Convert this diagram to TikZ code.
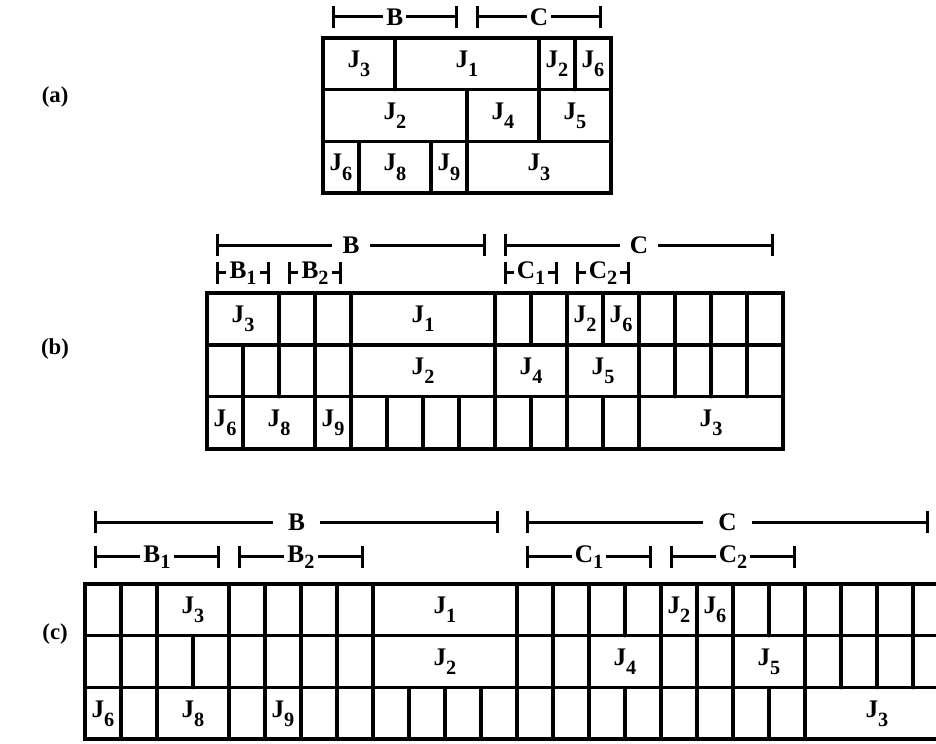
\documentclass[tikz,border=0pt]{standalone}
\usepackage{fontspec}
\setmainfont{Liberation Serif}
\usetikzlibrary{arrows.meta}

\newcommand{\jb}[1]{\textbf{J}\raisebox{-0.8ex}{\footnotesize\textbf{#1}}}

\begin{document}
\begin{tikzpicture}[x=0.5cm,y=0.5cm,line cap=round,
  frame/.style={line width=1.6pt},
  cellline/.style={line width=1.3pt},
  span/.style={line width=1.2pt,{Bar[width=8.5pt]}-{Bar[width=8.5pt]}},
  spanlab/.style={fill=white,inner sep=1.2pt,font=\bfseries},
  job/.style={inner sep=0pt,font=\normalsize},
  part/.style={font=\small\bfseries}]
\clip (0,0) rectangle (26,-20.64);

% (a)
\node[part] (pa) at (1.53,-2.69) {(a)};
\begin{scope}[shift={(8.97,-1.05)}]
\draw[frame] (0,0) rectangle (8,-4.32);
\draw[cellline] (0,-1.44) -- (8,-1.44) (0,-2.88) -- (8,-2.88);
\foreach \x in {2,6,7} \draw[cellline] (\x,0) -- (\x,-1.44);
\foreach \x in {4,6} \draw[cellline] (\x,-1.44) -- (\x,-2.88);
\foreach \x in {1,3,4} \draw[cellline] (\x,-2.88) -- (\x,-4.32);
\node[job] (a3) at (1,-0.72) {\jb{3}};
\node[job] (a1) at (4,-0.72) {\jb{1}};
\node[job] (a2) at (6.5,-0.72) {\jb{2}};
\node[job] (a6) at (7.5,-0.72) {\jb{6}};
\node[job] (a2b) at (2,-2.16) {\jb{2}};
\node[job] (a4) at (5,-2.16) {\jb{4}};
\node[job] (a5) at (7,-2.16) {\jb{5}};
\node[job] (a6b) at (0.5,-3.6) {\jb{6}};
\node[job] (a8) at (2,-3.6) {\jb{8}};
\node[job] (a9) at (3.5,-3.6) {\jb{9}};
\node[job] (a3b) at (6,-3.6) {\jb{3}};
\draw[span] (0.25,0.58) -- (3.75,0.58) node[spanlab,midway] (aB) {B};
\draw[span] (4.25,0.58) -- (7.75,0.58) node[spanlab,midway] (aC) {C};
\end{scope}

% (b)
\node[part] (pb) at (1.53,-9.69) {(b)};
\begin{scope}[shift={(5.75,-8.14)}]
\draw[frame] (0,0) rectangle (16,-4.32);
\draw[cellline] (0,-1.44) -- (16,-1.44) (0,-2.88) -- (16,-2.88);
\foreach \x in {2,3,4,8,9,10,11,12,13,14,15} \draw[cellline] (\x,0) -- (\x,-1.44);
\foreach \x in {1,2,3,4,8,10,12,13,14,15} \draw[cellline] (\x,-1.44) -- (\x,-2.88);
\foreach \x in {1,3,4,5,6,7,8,9,10,11,12} \draw[cellline] (\x,-2.88) -- (\x,-4.32);
\node[job] (b3) at (1,-0.72) {\jb{3}};
\node[job] (b1) at (6,-0.72) {\jb{1}};
\node[job] (b2) at (10.5,-0.72) {\jb{2}};
\node[job] (b6) at (11.5,-0.72) {\jb{6}};
\node[job] (b2b) at (6,-2.16) {\jb{2}};
\node[job] (b4) at (9,-2.16) {\jb{4}};
\node[job] (b5) at (11,-2.16) {\jb{5}};
\node[job] (b6b) at (0.5,-3.6) {\jb{6}};
\node[job] (b8) at (2,-3.6) {\jb{8}};
\node[job] (b9) at (3.5,-3.6) {\jb{9}};
\node[job] (b3b) at (14,-3.6) {\jb{3}};
\draw[span] (0.25,1.33) -- (7.75,1.33) node[spanlab,midway,inner xsep=4pt] (bB) {B};
\draw[span] (8.25,1.33) -- (15.75,1.33) node[spanlab,midway,inner xsep=4pt] (bC) {C};
\draw[span] (0.25,0.56) -- (1.75,0.56) node[spanlab,midway] (bB1) {B\raisebox{-0.5ex}{\footnotesize 1}};
\draw[span] (2.25,0.56) -- (3.75,0.56) node[spanlab,midway] (bB2) {B\raisebox{-0.5ex}{\footnotesize 2}};
\draw[span] (8.25,0.56) -- (9.75,0.56) node[spanlab,midway] (bC1) {C\raisebox{-0.5ex}{\footnotesize 1}};
\draw[span] (10.25,0.56) -- (11.75,0.56) node[spanlab,midway] (bC2) {C\raisebox{-0.5ex}{\footnotesize 2}};
\end{scope}

% (c)
\node[part] (pc) at (1.53,-17.61) {(c)};
\begin{scope}[shift={(2.36,-16.22)}]
\draw[frame] (0,0) rectangle (24,-4.32);
\draw[cellline] (0,-1.44) -- (24,-1.44) (0,-2.88) -- (24,-2.88);
\foreach \x in {1,2,4,5,6,7,8,12,13,14,15,16,17,18,19,20,21,22,23} \draw[cellline] (\x,0) -- (\x,-1.44);
\foreach \x in {1,2,3,4,5,6,7,8,12,13,14,16,17,18,20,21,22,23} \draw[cellline] (\x,-1.44) -- (\x,-2.88);
\foreach \x in {1,2,4,5,6,7,8,9,10,11,12,13,14,15,16,17,18,19,20} \draw[cellline] (\x,-2.88) -- (\x,-4.32);
\node[job] (c3) at (3,-0.72) {\jb{3}};
\node[job] (c1) at (10,-0.72) {\jb{1}};
\node[job] (c2) at (16.5,-0.72) {\jb{2}};
\node[job] (c6) at (17.5,-0.72) {\jb{6}};
\node[job] (c2b) at (10,-2.16) {\jb{2}};
\node[job] (c4) at (15,-2.16) {\jb{4}};
\node[job] (c5) at (19,-2.16) {\jb{5}};
\node[job] (c6b) at (0.5,-3.6) {\jb{6}};
\node[job] (c8) at (3,-3.6) {\jb{8}};
\node[job] (c9) at (5.5,-3.6) {\jb{9}};
\node[job] (c3b) at (22,-3.6) {\jb{3}};
\draw[span] (0.25,1.72) -- (11.5,1.72) node[spanlab,midway,inner xsep=6pt] (cB) {B};
\draw[span] (12.25,1.72) -- (23.45,1.72) node[spanlab,midway,inner xsep=6pt] (cC) {C};
\draw[span] (0.25,0.75) -- (3.75,0.75) node[spanlab,midway] (cB1) {B\raisebox{-0.5ex}{\footnotesize 1}};
\draw[span] (4.25,0.75) -- (7.75,0.75) node[spanlab,midway] (cB2) {B\raisebox{-0.5ex}{\footnotesize 2}};
\draw[span] (12.25,0.75) -- (15.75,0.75) node[spanlab,midway] (cC1) {C\raisebox{-0.5ex}{\footnotesize 1}};
\draw[span] (16.25,0.75) -- (19.75,0.75) node[spanlab,midway] (cC2) {C\raisebox{-0.5ex}{\footnotesize 2}};
\end{scope}
\end{tikzpicture}
\end{document}
